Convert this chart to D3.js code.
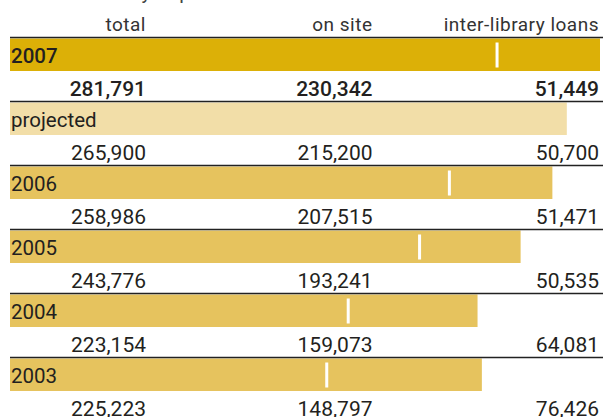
<!DOCTYPE html>
<html lang="en">
<head>
	<meta charset="UTF-8">
	<title>delivery of publications</title>
	<style>
		body { margin: 0; background: #fff; }
		text { font-family: Roboto, "Noto Sans", sans-serif; }
	</style>
</head>
<body>
	<svg id="container" width="603" height="417"></svg>
</body>
<script src="https://cdn.jsdelivr.net/npm/d3@7"></script>
<script>
	// values
	const rows = ["2007", "projected", "2006", "2005", "2004", "2003"];
	const totals = [281791, 265900, 258986, 243776, 223154, 225223];
	const onSite = [230342, 215200, 207515, 193241, 159073, 148797];
	const loans = [51449, 50700, 51471, 50535, 64081, 76426];
	const columns = ["total", "on site", "inter-library loans"];
	const title = "Annual delivery of publications";

	let svg = d3.select("#container");
	let fmt = d3.format(",");

	let y = d3.scaleBand()
		.domain(rows)
		.range([37.5, 37.5 + 64 * rows.length]);

	let x = d3.scaleLinear()
		.domain([0, d3.max(totals)])
		.range([11.5, 600]);

	let col = d3.scalePoint()
		.domain(columns)
		.range([146, 599]);

	function barColor(r)
	{
		if (r == "2007") return "#dcb007";
		if (r == "projected") return "#f2dea8";
		return "#e6c35e";
	}

	let data = rows.map((r, i) => ({
		row: r,
		values: [totals[i], onSite[i], loans[i]],
		total: totals[i],
		onSite: onSite[i]
	}));

	// cut off title at the very top
	svg.append("text")
		.attr("x", 16)
		.attr("y", -1)
		.attr("font-size", 20)
		.attr("fill", "#444")
		.text(title);

	// column heads
	svg.selectAll(".head")
		.data(columns)
		.enter()
		.append("text")
		.attr("class", "head")
		.attr("x", d => col(d))
		.attr("y", 31)
		.attr("text-anchor", "end")
		.attr("font-size", 19)
		.attr("letter-spacing", 0.5)
		.attr("fill", "#333")
		.text(d => d);

	let g = svg.selectAll(".row")
		.data(data)
		.enter()
		.append("g")
		.attr("class", "row")
		.attr("transform", d => `translate(0,${y(d.row)})`);

	g.append("rect")
		.attr("x", 10)
		.attr("y", 1)
		.attr("width", d => x(d.total) - 10)
		.attr("height", 32.5)
		.attr("fill", d => barColor(d.row));

	g.append("line")
		.attr("x1", 10)
		.attr("x2", 603)
		.attr("y1", 0)
		.attr("y2", 0)
		.attr("stroke", "#222")
		.attr("stroke-width", 1.3);

	// white marker for the on-site share
	g.filter(d => d.row != "projected")
		.append("rect")
		.attr("x", d => x(d.onSite) + 3)
		.attr("y", 5)
		.attr("width", 3)
		.attr("height", 25)
		.attr("fill", "#fff");

	g.append("text")
		.attr("x", 11)
		.attr("y", 25.5)
		.attr("font-size", 20.5)
		.attr("font-weight", d => d.row == "2007" ? 500 : "normal")
		.attr("fill", "#231f20")
		.text(d => d.row);

	g.selectAll(".num")
		.data(d => d.values.map((v, j) => ({ v: v, c: columns[j], bold: d.row == "2007" })))
		.enter()
		.append("text")
		.attr("class", "num")
		.attr("x", d => col(d.c))
		.attr("y", 58.5)
		.attr("text-anchor", "end")
		.attr("font-size", 21)
		.attr("font-weight", d => d.bold ? 500 : "normal")
		.attr("fill", "#231f20")
		.text(d => fmt(d.v));
</script>
</html>
